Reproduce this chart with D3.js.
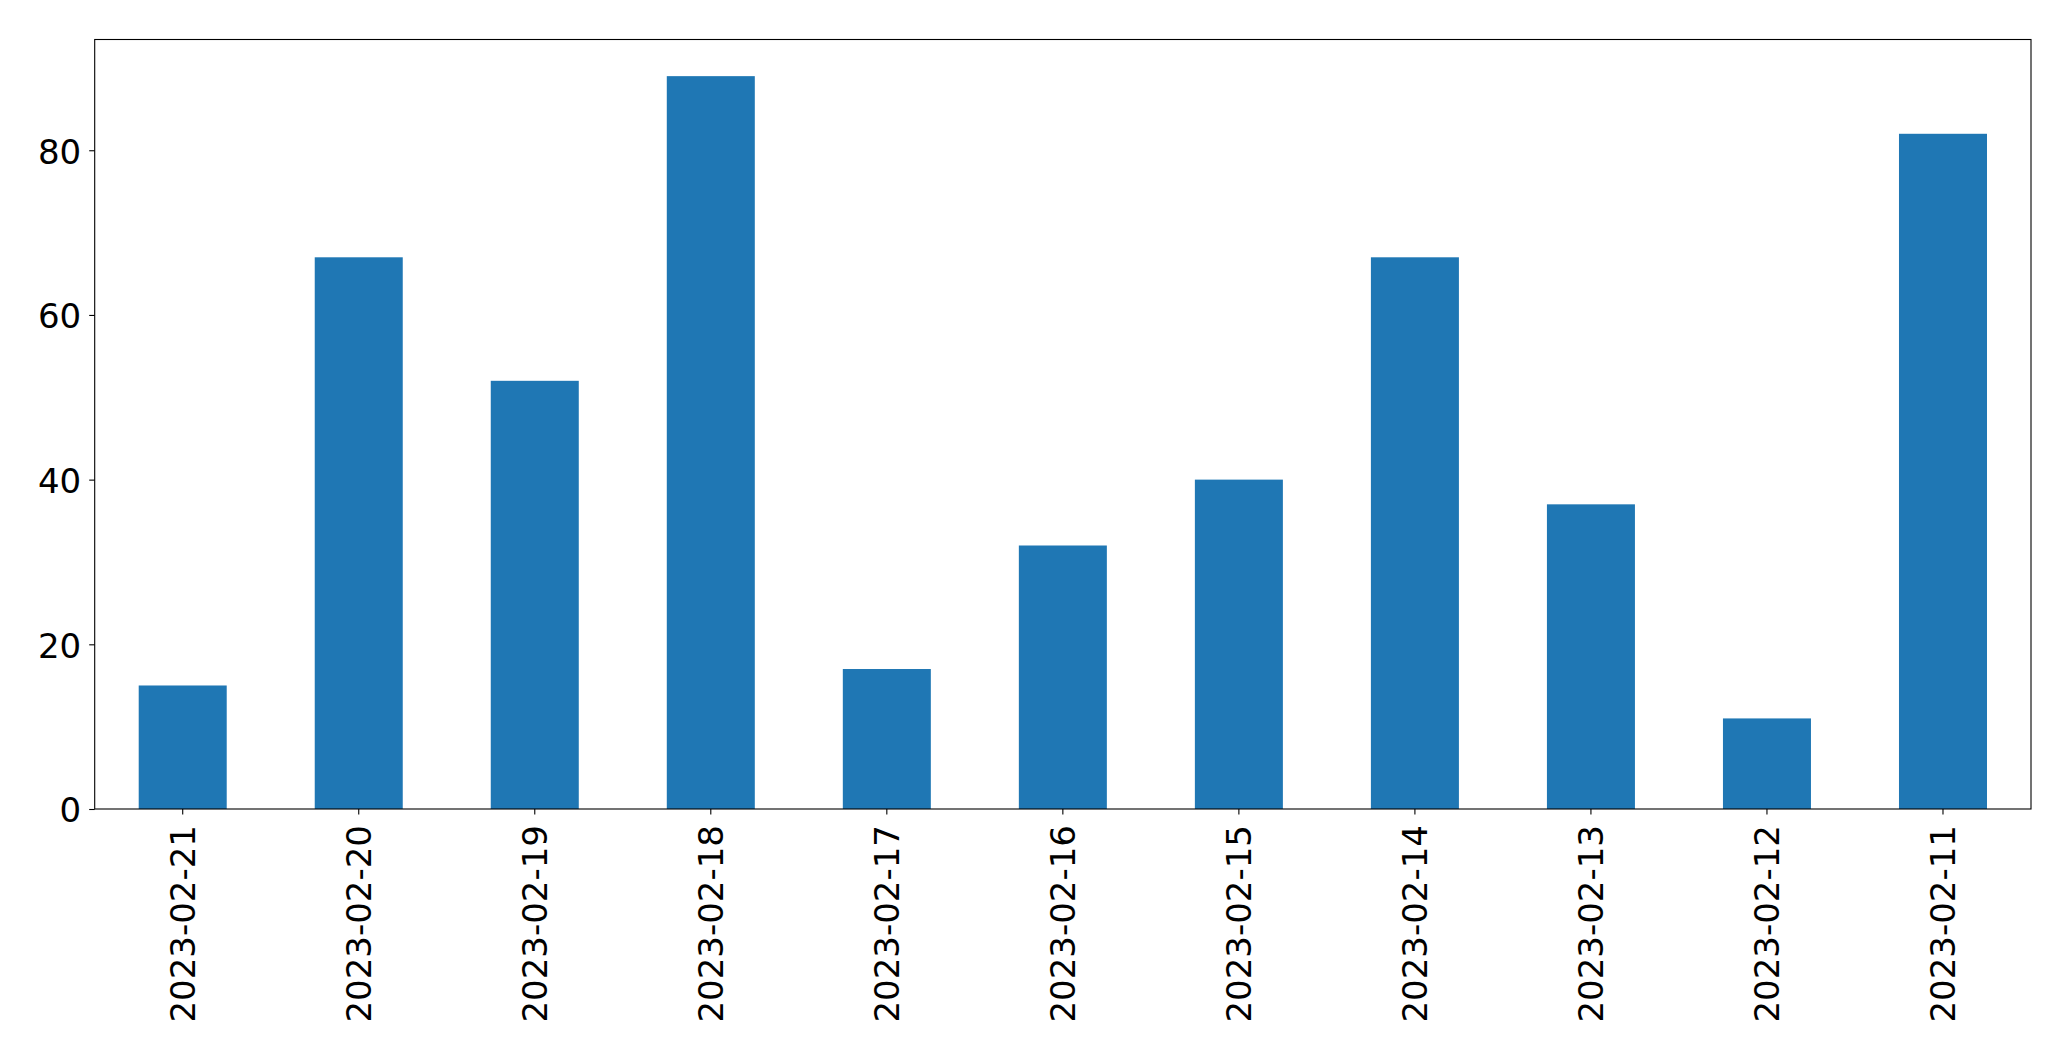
<!DOCTYPE html>
<html>
<head>
<meta charset="utf-8">
<script src="https://cdn.jsdelivr.net/npm/d3@7"></script>
<style>
  body { margin: 0; background: #fff; }
  text { font-family: "DejaVu Sans", sans-serif; }
</style>
</head>
<body>
<div id="viz"></div>
<script>
// dates on the x axis, newest first as in the picture
var dates = ["2023-02-21", "2023-02-20", "2023-02-19", "2023-02-18", "2023-02-17",
  "2023-02-16", "2023-02-15", "2023-02-14", "2023-02-13", "2023-02-12", "2023-02-11"]
var counts = [15, 67, 52, 89, 17, 32, 40, 67, 37, 11, 82]
var yTicks = [0, 20, 40, 60, 80]

function barChart() {
  let W = 2071, H = 1061
  let left = 94.7, top = 39.5, right = 2031, bottom = 809

  let svg = d3.select('#viz').append('svg')
    .attr('width', W)
    .attr('height', H)

  let width = right - left
  let height = bottom - top

  let chart = svg.append('g')
    .attr('transform', `translate(${left}, ${top})`)

  let xScale = d3.scaleBand()
    .range([0, width])
    .domain(dates)
    .paddingInner(0.5)
    .paddingOuter(0.25)

  let yScale = d3.scaleLinear()
    .range([height, 0])
    .domain([0, d3.max(counts) * 1.05])

  // bars
  chart.selectAll('rect.bar')
    .data(dates)
    .enter()
    .append('rect')
    .attr('class', 'bar')
    .attr('x', (d) => xScale(d))
    .attr('y', (d, i) => yScale(counts[i]))
    .attr('width', xScale.bandwidth())
    .attr('height', (d, i) => height - yScale(counts[i]))
    .attr('fill', '#1f77b4')

  // x axis
  let xAxis = chart.append('g')
    .attr('transform', `translate(0, ${height})`)
    .call(d3.axisBottom(xScale).tickSize(5.5).tickSizeOuter(0))
  xAxis.select('.domain').remove()
  xAxis.selectAll('line').attr('stroke', '#000').attr('stroke-width', 1.1)
  xAxis.selectAll('text')
    .attr('font-size', 34)
    .attr('fill', '#000')
    .attr('transform', 'rotate(-90)')
    .attr('text-anchor', 'end')
    .attr('x', -16)
    .attr('y', 0)
    .attr('dy', '0.36em')

  // y axis
  let yAxis = chart.append('g')
    .call(d3.axisLeft(yScale).tickValues(yTicks).tickSize(5.5).tickPadding(8))
  yAxis.select('.domain').remove()
  yAxis.selectAll('line').attr('stroke', '#000').attr('stroke-width', 1.1)
  yAxis.selectAll('text')
    .attr('font-size', 34)
    .attr('fill', '#000')
    .attr('dy', '0.38em')

  // frame
  chart.append('rect')
    .attr('x', 0)
    .attr('y', 0)
    .attr('width', width)
    .attr('height', height)
    .attr('fill', 'none')
    .attr('stroke', '#000')
    .attr('stroke-width', 1.1)
}

barChart()
</script>
</body>
</html>
